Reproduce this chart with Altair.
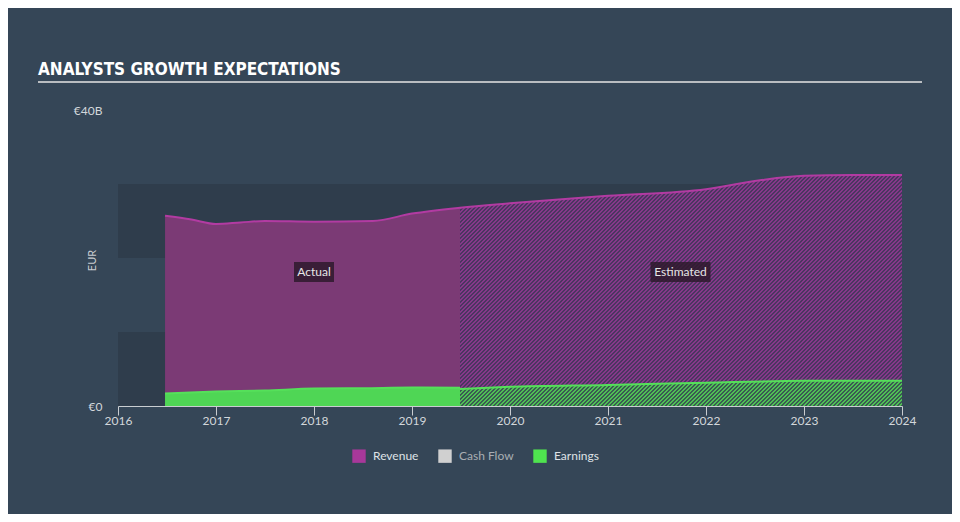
import math
import altair as alt
import pandas as pd

# ---- data (EUR billions) ----
rev_act_year = [2016.48, 2016.75, 2017.0, 2017.25, 2017.5, 2018.0, 2018.6, 2019.0, 2019.49]
rev_act_val = [25.7, 25.2, 24.6, 24.8, 25.0, 24.9, 25.0, 26.0, 26.8]

rev_est_year = [2019.49, 2020.0, 2021.0, 2022.0, 2022.55, 2023.0, 2023.5, 2024.0]
rev_est_val = [26.8, 27.4, 28.4, 29.3, 30.5, 31.1, 31.2, 31.2]

earn_act_year = [2016.48, 2017.0, 2017.5, 2018.0, 2018.5, 2019.0, 2019.49]
earn_act_val = [1.7, 1.95, 2.1, 2.35, 2.4, 2.5, 2.45]

earn_est_year = [2019.49, 2020.0, 2021.0, 2022.0, 2023.0, 2024.0]
earn_est_val = [2.3, 2.6, 2.85, 3.15, 3.4, 3.42]

legend_series = ["Revenue", "Cash Flow", "Earnings"]
legend_colors = ["#a8389a", "#d0d0d0", "#4fe34f"]

band_lo = [0, 20]
band_hi = [10, 30]

note_text = ["Actual", "Estimated"]
note_year = [2018.0, 2021.74]
note_val = [18.1, 18.1]

x_ticks = list(range(2016, 2025))
y_ticks = [0, 40]

# ---- frames ----
def frame(years, vals):
    return pd.DataFrame({"year": years, "value": vals})

rev_act = frame(rev_act_year, rev_act_val)
rev_est = frame(rev_est_year, rev_est_val)
earn_act = frame(earn_act_year, earn_act_val)
earn_est = frame(earn_est_year, earn_est_val)
rev_all = frame(rev_act_year + rev_est_year[1:], rev_act_val + rev_est_val[1:])
bands = pd.DataFrame({"lo": band_lo, "hi": band_hi})
notes = pd.DataFrame({"text": note_text, "year": note_year, "value": note_val})
legend_df = pd.DataFrame({"series": legend_series, "year": [2016.0] * 3, "value": [0.0] * 3})

W, H = 784, 296
X0, X1, Y0, Y1 = 2016, 2024, 0, 40
xs = alt.Scale(domain=[X0, X1], nice=False, zero=False)
ys = alt.Scale(domain=[Y0, Y1], nice=False)


# ---- diagonal hatch fill (style only): a striped linear gradient ----
def hatch(years, vals, c_light, c_dark, hperiod=4.0):
    bw = (max(years) - min(years)) / (X1 - X0) * W
    bh = max(vals) / (Y1 - Y0) * H
    r = bh / bw
    n = int(math.ceil((bw + bh) / hperiod))
    D = n * hperiod                       # x + y span (px) covered by t in [0, 1]
    s = D / ((1 + r * r) * bw)
    stops = []
    for i in range(n):
        a = i / n
        m = (i + 0.5) / n
        b = (i + 1) / n
        stops += [alt.GradientStop(offset=a, color=c_light),
                  alt.GradientStop(offset=m, color=c_light),
                  alt.GradientStop(offset=m, color=c_dark),
                  alt.GradientStop(offset=b, color=c_dark)]
    return alt.LinearGradient(gradient="linear", stops=stops, x1=0, y1=0, x2=s, y2=s * r)


X = alt.X("year:Q", scale=xs, title=None,
          axis=alt.Axis(values=x_ticks, format="d", grid=False, labelColor="#d3d7db",
                        labelFontSize=12, labelFont="Lato", tickColor="#c9cdd1", domainColor="#c9cdd1",
                        tickSize=9, labelPadding=0, domainWidth=1.2, labelFlush=False))
Y = alt.Y("value:Q", scale=ys, title="EUR",
          axis=alt.Axis(values=y_ticks, labelExpr="datum.value == 0 ? '€0' : '€40B'",
                        grid=False, domain=False, ticks=False, labelPadding=16,
                        labelColor="#d3d7db", labelFontSize=12, labelFont="Lato",
                        titleColor="#c9cdd1", titleFont="Lato", titleFontSize=11,
                        titleFontWeight="normal", titleX=-26, titleY=150, titleAngle=270,
                        titleAlign="center", titleBaseline="middle"))

band_layer = alt.Chart(bands).mark_rect(color="#2f3d4c").encode(
    x=alt.value(0), x2=alt.value(W), y=alt.Y("lo:Q", scale=ys), y2="hi:Q")

rev_act_area = alt.Chart(rev_act).mark_area(color="#7b3a75", interpolate="monotone").encode(x=X, y=Y)
rev_est_area = alt.Chart(rev_est).mark_area(
    color=hatch(rev_est_year, rev_est_val, "#86388a", "#4a3660"),
    interpolate="monotone").encode(x=X, y=Y)
earn_act_area = alt.Chart(earn_act).mark_area(color="#4fd655", interpolate="monotone").encode(x=X, y=Y)
earn_est_area = alt.Chart(earn_est).mark_area(
    color=hatch(earn_est_year, earn_est_val, "#4fbf55", "#3a5a52"),
    interpolate="monotone").encode(x=X, y=Y)

rev_line = alt.Chart(rev_all).mark_line(color="#b23ba2", strokeWidth=2, interpolate="monotone").encode(x=X, y=Y)
earn_act_line = alt.Chart(earn_act).mark_line(color="#55e05a", strokeWidth=2, interpolate="monotone").encode(x=X, y=Y)
earn_est_line = alt.Chart(earn_est).mark_line(color="#55e05a", strokeWidth=2, interpolate="monotone").encode(x=X, y=Y)

box_act = alt.Chart(notes).transform_filter("datum.text == 'Actual'").mark_rect(
    color="#2e1a2d", opacity=0.85, width=40, height=20).encode(x=X, y=Y)
box_est = alt.Chart(notes).transform_filter("datum.text == 'Estimated'").mark_rect(
    color="#2e1a2d", opacity=0.85, width=60, height=20).encode(x=X, y=Y)
note_txt = alt.Chart(notes).mark_text(color="#e6e6e6", font="Lato", fontSize=12,
                                      align="center", baseline="middle").encode(
    x=X, y=Y, text="text:N")

legend_layer = alt.Chart(legend_df).mark_square(opacity=0).encode(
    x=X, y=Y,
    color=alt.Color("series:N", scale=alt.Scale(domain=legend_series, range=legend_colors),
                    sort=legend_series,
                    legend=alt.Legend(title=None, orient="none", direction="horizontal",
                                      legendX=234, legendY=339, symbolType="square",
                                      symbolSize=180, symbolOpacity=1, symbolStrokeWidth=0,
                                      labelColor={"expr": "datum.value == 'Cash Flow' ? '#a9aeb3' : '#dfe2e6'"},
                                      labelFont="Lato", labelFontSize=12, labelOffset=7,
                                      columnPadding=19)))

title_df = pd.DataFrame({"t": ["ANALYSTS GROWTH EXPECTATIONS"]})
title_txt = alt.Chart(title_df).mark_text(
    align="left", baseline="alphabetic", color="#ffffff", fontSize=17, fontWeight="bold",
    font="'Liberation Sans Narrow', 'DejaVu Sans Condensed', 'Roboto Condensed', 'Arial Narrow', 'Roboto', sans-serif"
).encode(x=alt.value(-80), y=alt.value(-35), text="t:N")

underline = alt.Chart(title_df).mark_rule(color="#b9bdc1", strokeWidth=2).encode(
    x=alt.value(-80), x2=alt.value(W + 20), y=alt.value(-28))

chart = alt.layer(
    band_layer, rev_act_area, rev_est_area, earn_act_area, earn_est_area,
    rev_line, earn_act_line, earn_est_line, box_act, box_est, note_txt, legend_layer,
    title_txt, underline
).properties(
    width=W, height=H,
    autosize=alt.AutoSizeParams(type="none"),
    padding={"left": 110, "top": 102, "right": 50, "bottom": 108},
    background="#354657",
).configure_view(stroke=None, clip=False)

chart.save("out.html", embed_options={"renderer": "svg", "actions": False})
